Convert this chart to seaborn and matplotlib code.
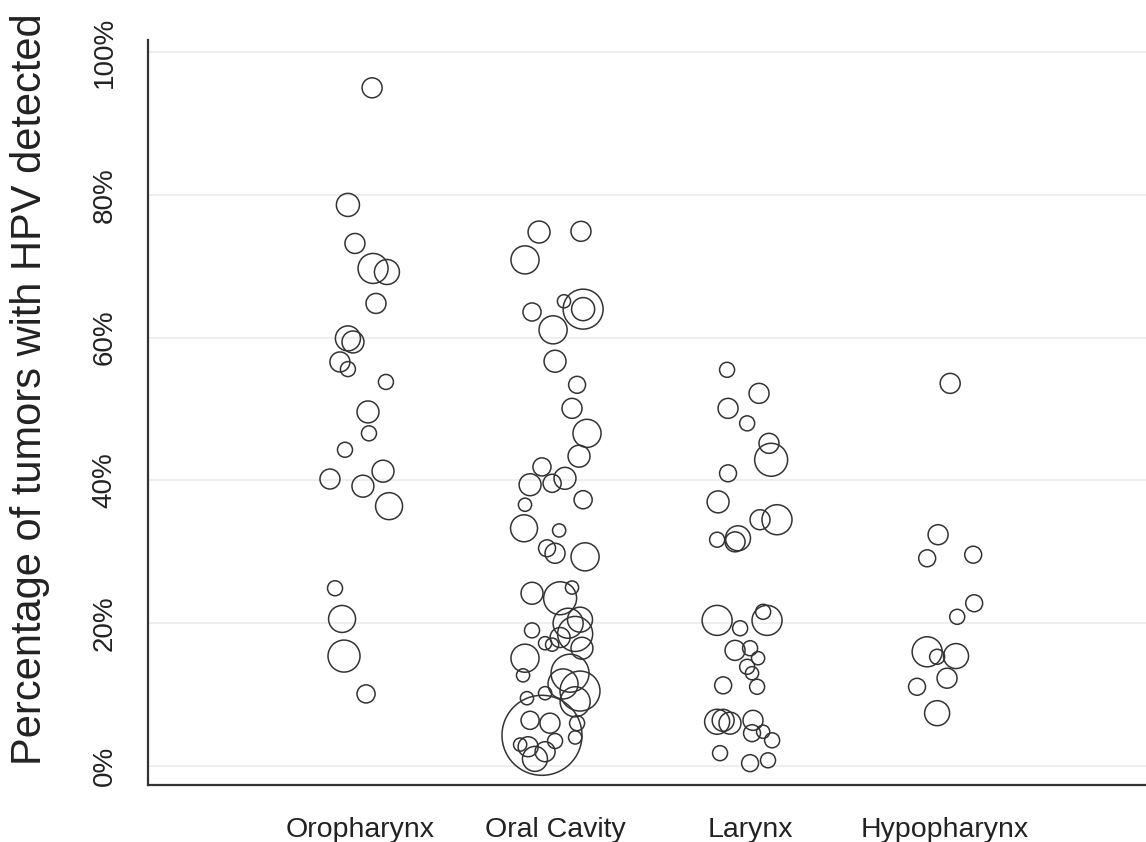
import numpy as np
import pandas as pd
import matplotlib
matplotlib.use('Agg')
import matplotlib.pyplot as plt
import seaborn as sns

# Categories on the x axis
sites = ['Oropharynx', 'Oral Cavity', 'Larynx', 'Hypopharynx']

# Percentage HPV positive per study, jitter (category units),
# and study size (bubble area)
oro_pct = [95.0, 78.6, 73.2, 69.7, 69.2, 64.8, 59.9, 59.4, 56.6, 55.6, 53.8,
           49.6, 46.6, 44.3, 41.3, 40.2, 39.2, 36.4, 24.9, 20.6, 15.4, 10.1]
oro_jit = [0.062, -0.062, -0.026, 0.067, 0.138, 0.082, -0.062, -0.036, -0.103, -0.062, 0.133,
           0.041, 0.046, -0.077, 0.118, -0.154, 0.015, 0.149, -0.128, -0.092, -0.082, 0.031]
oro_n = [39, 52, 39, 88, 61, 39, 61, 47, 39, 22, 22,
         47, 22, 22, 47, 39, 47, 71, 22, 71, 100, 32]

oral_pct = [74.8, 74.9, 70.9, 65.1, 64.0, 64.0, 63.6, 61.1, 56.7, 53.4, 50.1, 46.6,
            43.4, 41.9, 39.4, 39.6, 40.3, 37.3, 36.6, 33.3, 33.0, 30.5, 29.8, 29.3,
            24.2, 23.5, 25.0, 19.0, 20.0, 20.5, 18.5, 18.0, 17.2, 17.0, 16.5, 15.1,
            12.7, 13.0, 11.5, 10.5, 9.0, 10.2, 9.5, 4.3, 6.4, 6.0, 6.0, 4.0,
            2.7, 1.0, 2.0, 3.5, 3.0]
oral_jit = [-0.082, 0.133, -0.154, 0.046, 0.144, 0.144, -0.118, -0.010, 0.0, 0.113, 0.087, 0.164,
            0.123, -0.067, -0.128, -0.015, 0.051, 0.144, -0.154, -0.159, 0.021, -0.041, 0.0, 0.154,
            -0.118, 0.026, 0.087, -0.118, 0.067, 0.128, 0.103, 0.026, -0.051, -0.015, 0.138, -0.154,
            -0.164, 0.077, 0.041, 0.128, 0.103, -0.051, -0.144, -0.067, -0.128, -0.026, 0.113, 0.103,
            -0.138, -0.103, -0.051, 0.0, -0.179]
oral_n = [47, 39, 77, 17, 156, 52, 32, 77, 47, 28, 39, 77,
          47, 32, 47, 32, 47, 32, 17, 71, 17, 28, 39, 77,
          47, 106, 17, 22, 88, 61, 120, 39, 17, 17, 47, 77,
          17, 141, 88, 156, 88, 17, 17, 625, 32, 39, 22, 17,
          39, 61, 39, 22, 17]

lar_pct = [55.5, 52.2, 50.1, 48.0, 45.2, 42.9, 41.0, 37.0, 34.5, 34.5, 31.7, 31.9, 31.4,
           20.4, 20.4, 21.6, 19.3, 16.2, 16.5, 15.1, 13.9, 13.0, 11.3, 11.1,
           6.2, 6.4, 6.0, 6.4, 4.6, 3.6, 1.8, 0.4, 0.8, 4.8]
lar_jit = [-0.118, 0.046, -0.113, -0.015, 0.097, 0.108, -0.113, -0.164, 0.051, 0.138, -0.169, -0.062, -0.077,
           -0.169, 0.087, 0.067, -0.051, -0.077, 0.0, 0.041, -0.015, 0.010, -0.138, 0.036,
           -0.169, -0.138, -0.103, 0.015, 0.010, 0.113, -0.154, 0.0, 0.092, 0.067]
lar_n = [22, 39, 39, 22, 39, 106, 28, 47, 39, 88, 22, 61, 39,
         88, 88, 22, 22, 39, 22, 17, 22, 17, 28, 22,
         61, 47, 47, 39, 28, 22, 22, 28, 22, 17]

hypo_pct = [53.6, 32.4, 29.1, 29.6, 22.8, 20.9, 16.0, 15.3, 15.4, 12.3, 11.1, 7.4]
hypo_jit = [0.026, -0.036, -0.092, 0.144, 0.149, 0.062, -0.092, -0.041, 0.056, 0.010, -0.144, -0.041]
hypo_n = [39, 39, 28, 28, 28, 22, 88, 22, 61, 39, 28, 61]

yticks = [0, 20, 40, 60, 80, 100]
ytick_labels = ['0%', '20%', '40%', '60%', '80%', '100%']


def build_frame():
    '''
    Stack the per-site lists into one long table for seaborn
    '''
    parts = []
    for i, (pct, jit, n) in enumerate([(oro_pct, oro_jit, oro_n),
                                       (oral_pct, oral_jit, oral_n),
                                       (lar_pct, lar_jit, lar_n),
                                       (hypo_pct, hypo_jit, hypo_n)]):
        parts.append(pd.DataFrame({'site': sites[i],
                                   'xpos': i + np.array(jit),
                                   'pct': pct,
                                   'n': n}))
    return pd.concat(parts, ignore_index=True)


def main():
    df = build_frame()

    sns.set_style('white')
    plt.rcParams['font.family'] = ['Liberation Sans', 'DejaVu Sans']

    fig = plt.figure(figsize=(11.46, 8.42), dpi=100)
    ax = fig.add_axes([148 / 1146, 57 / 842, 1 - 148 / 1146, 745 / 842])

    # light horizontal grid behind the bubbles
    for yv in yticks:
        ax.axhline(yv, color='#ebebeb', lw=1.2, zorder=0)

    # bubble area proportional to study size
    k = 5.308
    nmin, nmax = df['n'].min(), df['n'].max()
    sns.scatterplot(data=df, x='xpos', y='pct', size='n',
                    sizes=(k * nmin, k * nmax), size_norm=(nmin, nmax),
                    facecolor='none', edgecolor='#333333', linewidth=1.1,
                    legend=False, ax=ax, zorder=3)

    ax.set_xlim(-1.087, 4.03)
    ax.set_ylim(-2.66, 101.7)

    ax.set_xticks(range(len(sites)))
    ax.set_xticklabels(sites, fontsize=20.5, color='#222222')
    ax.set_yticks(yticks)
    ax.set_yticklabels(ytick_labels, rotation=90, va='center', fontsize=20, color='#222222')
    ax.tick_params(axis='x', length=9, width=1.5, color='#333333', pad=14)
    ax.tick_params(axis='y', length=8, width=1.5, color='#333333', pad=14)

    for side in ['top', 'right']:
        ax.spines[side].set_visible(False)
    for side in ['left', 'bottom']:
        ax.spines[side].set_color('#333333')
        ax.spines[side].set_linewidth(1.6)

    ax.set_xlabel('')
    ax.set_ylabel('')
    fig.text(30 / 1146, 1 - 389 / 842, 'Percentage of tumors with HPV detected',
             rotation=90, ha='center', va='center', fontsize=30, color='#222222')

    fig.savefig('out.png', dpi=100, facecolor='white')


if __name__ == '__main__':
    main()
